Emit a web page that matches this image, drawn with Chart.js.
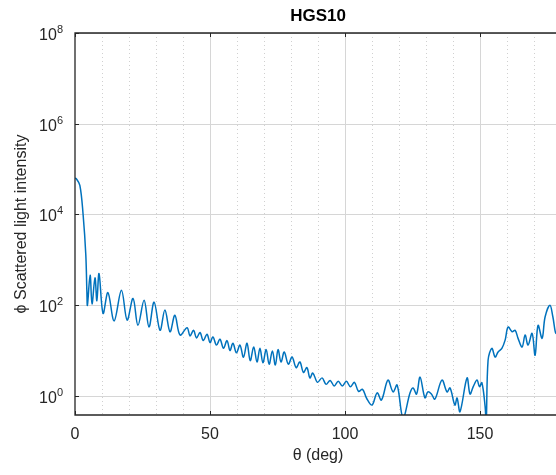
<!DOCTYPE html>
<html>
<head>
<meta charset="utf-8">
<script src="https://cdn.jsdelivr.net/npm/chart.js@4"></script>
<style>
html, body { margin: 0; padding: 0; background: #fff; overflow: hidden; }
#wrap { width: 556px; height: 475px; overflow: hidden; }
</style>
</head>
<body>
<div id="wrap"><canvas id="chart" width="566" height="475"></canvas></div>
<script>
// scattering angle (deg) and phase function values
const angles = [
    0, 0.4, 1.8, 3.0, 4.0, 4.4, 4.6, 5.6, 6.3, 7.4, 8.1, 8.9, 10.4, 12.2, 14.5, 17.2, 19.3,
    21.5, 23.3, 25.6, 27.4, 29.3, 31.5, 33.3, 35.2, 37.0, 38.9, 41.5, 42.6, 43.9, 45.0, 46.3,
    47.5, 48.9, 50.0, 51.1, 52.4, 53.7, 55.0, 56.3, 57.4, 58.5, 59.8, 61.1, 62.4, 63.7, 64.9,
    66.2, 67.4, 68.5, 69.6, 70.8, 71.9, 73.1, 74.2, 75.2, 76.3, 77.5, 79.0, 80.4, 81.9, 83.3,
    84.6, 85.9, 87.0, 88.1, 89.8, 91.5, 93.0, 94.5, 96.0, 97.5, 99.0, 100.5, 102.0, 103.5,
    105.0, 106.5, 108.0, 110.0, 111.9, 113.5, 115.9, 117.8, 119.3, 121.5, 124.1, 125.2, 126.5,
    127.8, 129.6, 130.7, 132.0, 133.3, 135.9, 137.8, 138.9, 140.7, 141.5, 142.6, 145.2, 146.3,
    147.5, 148.9, 149.8, 150.7, 151.9, 152.3, 153.0, 154.4, 155.6, 156.7, 158.1, 159.3, 160.4,
    161.9, 163.0, 164.1, 165.6, 166.7, 167.8, 169.3, 170.4, 171.5, 173.0, 174.1, 175.9, 177.0,
    178.1, 179.0, 180.0
];
const intensity = [
    6.3e4, 6.2e4, 4.4e4, 1.0e4, 1.3e3, 200, 100, 460, 107, 400, 126, 500, 66, 190, 45, 214, 47,
    141, 36, 129, 33, 117, 28, 78, 26, 60, 22, 32, 21, 28, 19, 25,
    16.6, 23, 15, 20, 13.2, 17.8, 11.2, 16.6, 10, 14.5, 8.9, 13.2, 7.1, 14.5, 6.0,
    12, 5.6, 11.2, 5.4, 10.5, 5.0, 9.8, 4.8, 10.5, 5.6, 9.3, 5.0, 7.2, 4.2, 5.6,
    3.3, 4.2, 2.5, 3.2, 2.0, 2.5, 1.8, 2.2, 1.66, 2.1, 1.66, 2.1, 1.6, 2.0,
    1.26, 1.4, 0.89, 0.63, 1.17, 0.81, 2.24, 1.23, 1.74, 0.33, 1.17, 1.5, 1.1,
    2.6, 0.91, 1.23, 1.1, 0.85, 2.24, 1.23, 1.5, 0.63, 0.9, 0.45, 2.5, 1.1,
    1.6, 2.24, 1.6, 1.95, 0.58, 0.25, 6.2, 11.2, 7.2, 9.3, 11.2, 17, 33,
    26, 28, 18.6, 12, 22, 13.2, 24, 7.9, 36, 18.6, 55, 100, 55,
    24, 40, 80
];
const xTicks = [0, 50, 100, 150];
const yTicks = [1, 1e2, 1e4, 1e6, 1e8];
const yExponents = ['0', '2', '4', '6', '8'];

const points = angles.map((a, i) => ({ x: a, y: intensity[i] }));
const FONT = 'Liberation Sans, Arial, sans-serif';

// MATLAB style grid, box and 10^n tick labels
const matlabGrid = {
    id: 'matlabGrid',
    beforeDatasetsDraw(chart) {
        const { ctx, chartArea: a, scales: { x, y } } = chart;
        ctx.save();
        ctx.lineWidth = 1;
        for (let v = 10; v < 180; v += 10) {
            const px = Math.round(x.getPixelForValue(v)) + 0.5;
            ctx.beginPath();
            if (v % 50 === 0) {
                ctx.strokeStyle = '#d6d6d6';
                ctx.setLineDash([]);
            } else {
                ctx.strokeStyle = '#d0d0d0';
                ctx.setLineDash([1, 3]);
            }
            ctx.moveTo(px, a.top);
            ctx.lineTo(px, a.bottom);
            ctx.stroke();
        }
        ctx.setLineDash([]);
        ctx.strokeStyle = '#d6d6d6';
        yTicks.forEach(v => {
            const py = Math.round(y.getPixelForValue(v)) + 0.5;
            ctx.beginPath();
            ctx.moveTo(a.left, py);
            ctx.lineTo(a.right, py);
            ctx.stroke();
        });
        ctx.restore();
    },
    afterDatasetsDraw(chart) {
        const { ctx, chartArea: a, scales: { x, y } } = chart;
        ctx.save();
        ctx.strokeStyle = '#262626';
        ctx.lineWidth = 1.3;
        ctx.beginPath();
        ctx.moveTo(a.right, a.top);
        ctx.lineTo(a.left, a.top);
        ctx.lineTo(a.left, a.bottom);
        ctx.lineTo(a.right, a.bottom);
        ctx.stroke();
        ctx.lineWidth = 1;
        ctx.beginPath();
        xTicks.forEach(v => {
            const px = Math.round(x.getPixelForValue(v)) + 0.5;
            ctx.moveTo(px, a.bottom);
            ctx.lineTo(px, a.bottom - 4);
            ctx.moveTo(px, a.top);
            ctx.lineTo(px, a.top + 4);
        });
        yTicks.forEach(v => {
            const py = Math.round(y.getPixelForValue(v)) + 0.5;
            ctx.moveTo(a.left, py);
            ctx.lineTo(a.left + 4, py);
        });
        ctx.stroke();

        // y tick labels: "10" with a raised exponent
        ctx.fillStyle = '#262626';
        ctx.textBaseline = 'alphabetic';
        ctx.textAlign = 'left';
        yTicks.forEach((v, i) => {
            const py = y.getPixelForValue(v);
            ctx.font = '11px ' + FONT;
            const ew = ctx.measureText(yExponents[i]).width;
            ctx.font = '16px ' + FONT;
            const bw = ctx.measureText('10').width;
            const right = a.left - 12;
            ctx.fillText('10', right - ew - bw, py + 7);
            ctx.font = '11px ' + FONT;
            ctx.fillText(yExponents[i], right - ew, py);
        });
        ctx.restore();
    }
};

new Chart(document.getElementById('chart'), {
    type: 'line',
    data: {
        datasets: [{
            data: points,
            borderColor: '#0072BD',
            borderWidth: 1.5,
            pointRadius: 0,
            tension: 0.35
        }]
    },
    options: {
        responsive: false,
        animation: false,
        layout: { padding: { left: 0, right: 5, top: 0, bottom: 0 } },
        plugins: {
            legend: { display: false },
            tooltip: { enabled: false },
            title: {
                display: true,
                text: 'HGS10',
                fullSize: false,
                color: '#000',
                font: { family: FONT, size: 17, weight: 'bold', lineHeight: 1.2 },
                padding: { top: 6, bottom: 6.6 }
            }
        },
        scales: {
            x: {
                type: 'linear',
                min: 0,
                max: 180,
                afterBuildTicks: s => { s.ticks = xTicks.map(v => ({ value: v })); },
                afterFit: s => { s.height = 60; },
                grid: { display: false },
                border: { display: false },
                ticks: {
                    autoSkip: false,
                    maxRotation: 0,
                    padding: 2,
                    color: '#262626',
                    font: { family: FONT, size: 16 }
                },
                title: {
                    display: true,
                    text: 'θ (deg)',
                    color: '#262626',
                    font: { family: FONT, size: 16, lineHeight: 1.2 },
                    padding: { top: 0, bottom: 10 }
                }
            },
            y: {
                type: 'logarithmic',
                min: Math.pow(10, -0.42),
                max: 1e8,
                afterBuildTicks: s => { s.ticks = yTicks.map(v => ({ value: v })); },
                afterFit: s => { s.width = 75; },
                grid: { display: false },
                border: { display: false },
                ticks: { display: false },
                title: {
                    display: true,
                    text: 'ϕ Scattered light intensity',
                    color: '#262626',
                    font: { family: FONT, size: 16, lineHeight: 1.2 },
                    padding: { top: 12, bottom: 0 }
                }
            }
        }
    },
    plugins: [matlabGrid]
});
</script>
</body>
</html>
